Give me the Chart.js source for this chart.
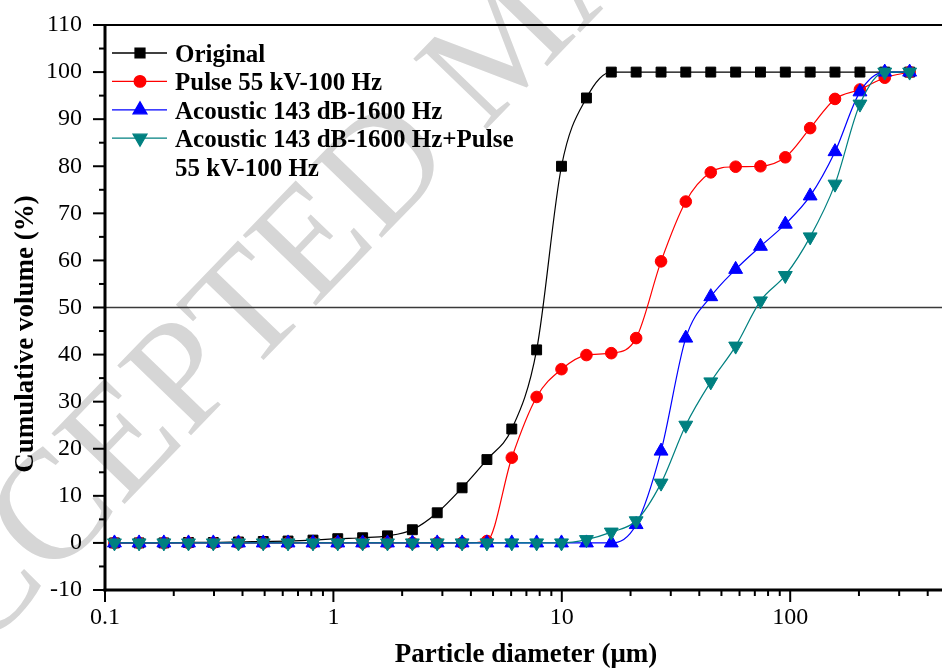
<!DOCTYPE html>
<html>
<head>
<meta charset="utf-8">
<script src="https://cdn.jsdelivr.net/npm/chart.js@4.4.0/dist/chart.umd.min.js"></script>
<style>
  html, body { margin: 0; padding: 0; background: #fff; overflow: hidden; }
  /* plot runs off the right edge of the figure, like the cropped original */
  #psd-chart { display: block; }
</style>
</head>
<body>
<canvas id="psd-chart" width="951" height="668"></canvas>
<script>
/* ── Data ── */
const diameters = [0.11, 0.141, 0.181, 0.232, 0.298, 0.384, 0.493, 0.633, 0.814, 1.045,
                   1.343, 1.725, 2.217, 2.848, 3.66, 4.70, 6.04, 7.76, 9.97, 12.82,
                   16.47, 21.16, 27.2, 34.9, 44.9, 57.7, 74.1, 95.2, 122.3, 157.1,
                   202, 259.4, 333.4];

const original = [0, 0, 0, 0.1, 0.1, 0.2, 0.3, 0.4, 0.6, 0.9,
                  1.1, 1.5, 2.8, 6.4, 11.7, 17.7, 24.2, 41.0, 80.0, 94.5,
                  100, 100, 100, 100, 100, 100, 100, 100, 100, 100,
                  100, 100, 100];
const pulse    = [0, 0, 0, 0, 0, 0, 0, 0, 0, 0,
                  0, 0, 0, 0, 0, 0.4, 18.1, 31.0, 36.9, 39.9,
                  40.3, 43.5, 59.8, 72.5, 78.7, 79.9, 80.0, 81.9, 88.1, 94.3,
                  96.3, 98.8, 100];
const acoustic = [0, 0, 0, 0, 0, 0, 0, 0, 0, 0,
                  0, 0, 0, 0, 0, 0, 0, 0, 0, 0,
                  0, 3.9, 19.5, 43.5, 52.3, 58.1, 63.0, 67.7, 73.7, 83.1,
                  95.8, 100, 100];
const combined = [0, 0, 0, 0, 0, 0, 0, 0, 0, 0,
                  0, 0, 0, 0, 0, 0, 0, 0, 0, 0.7,
                  2.3, 4.7, 12.7, 25.0, 34.2, 41.8, 51.4, 56.8, 65.0, 76.2,
                  93.2, 100, 100];

const seriesNames  = ['Original', 'Pulse 55 kV-100 Hz', 'Acoustic 143 dB-1600 Hz',
                      'Acoustic 143 dB-1600 Hz+Pulse 55 kV-100 Hz'];
const legendLines  = [['Original'], ['Pulse 55 kV-100 Hz'], ['Acoustic 143 dB-1600 Hz'],
                      ['Acoustic 143 dB-1600 Hz+Pulse', '55 kV-100 Hz']];
const xTickLabels  = ['0.1', '1', '10', '100'];
const xRange       = [0.1, 462];
const yRange       = [-10, 110];
const refLevel     = 50;
const xTitle       = 'Particle diameter (\u03bcm)';
const yTitle       = 'Cumulative volume (%)';
const watermark    = 'ACCEPTED MANUSCRIPT';

const SERIF = '"Liberation Serif", "Times New Roman", serif';

const toPoints = ys => diameters.map((d, i) => ({ x: d, y: ys[i] }));

/* ── Plugins ── */
const watermarkPlugin = {
  id: 'watermark',
  beforeDraw(chart) {
    const ctx = chart.ctx;
    ctx.save();
    ctx.fillStyle = '#fff';
    ctx.fillRect(0, 0, chart.width, chart.height);
    ctx.font = `155px ${SERIF}`;
    ctx.fillStyle = '#d6d6d6';
    ctx.textBaseline = 'middle';
    ctx.textAlign = 'left';
    const off = ctx.measureText('ACC').width + ctx.measureText('E').width / 2;
    ctx.translate(125, 445);
    ctx.rotate(-46 * Math.PI / 180);
    ctx.fillText(watermark, -off, 0);
    ctx.restore();
  }
};

const axesPlugin = {
  id: 'axes',
  afterDraw(chart) {
    const { ctx, chartArea: a, scales: { x, y } } = chart;
    ctx.save();
    ctx.strokeStyle = '#000';
    const seg = (x1, y1, x2, y2) => { ctx.beginPath(); ctx.moveTo(x1, y1); ctx.lineTo(x2, y2); ctx.stroke(); };

    // major / minor tick marks
    ctx.lineWidth = 2;
    for (let v = yRange[0]; v <= yRange[1]; v += 5) {
      const py = y.getPixelForValue(v);
      seg(a.left - (v % 10 === 0 ? 12 : 6), py, a.left, py);
    }
    for (let dec = 0.1; dec < xRange[1]; dec *= 10) {
      for (let m = 1; m <= 9; m++) {
        const v = m * dec;
        if (v > xRange[1]) break;
        const px = x.getPixelForValue(v);
        seg(px, a.bottom, px, a.bottom + (m === 1 ? 12 : 6));
      }
    }

    // axis lines
    ctx.lineWidth = 3;
    seg(a.left, a.top - 1, a.left, a.bottom + 1.5);
    seg(a.left - 1.5, a.bottom, a.right, a.bottom);
    ctx.lineWidth = 2;
    seg(a.left, a.top, a.right, a.top);

    // axis titles
    ctx.fillStyle = '#000';
    ctx.font = `bold 27px ${SERIF}`;
    ctx.textAlign = 'center';
    ctx.textBaseline = 'alphabetic';
    ctx.fillText(xTitle, 526, 662);
    ctx.translate(33, 334);
    ctx.rotate(-Math.PI / 2);
    ctx.fillText(yTitle, 0, 0);
    ctx.restore();
  }
};

const legendPlugin = {
  id: 'customLegend',
  afterDraw(chart) {
    const ctx = chart.ctx;
    const rowH = 28.4;
    let base = 62;
    ctx.save();
    ctx.font = `bold 25px ${SERIF}`;
    ctx.textAlign = 'left';
    ctx.textBaseline = 'alphabetic';
    legendLines.forEach((lines, i) => {
      const ds = chart.data.datasets[i];
      const my = base - 9;
      ctx.strokeStyle = ds.borderColor;
      ctx.lineWidth = 1.3;
      ctx.beginPath(); ctx.moveTo(112, my); ctx.lineTo(167, my); ctx.stroke();
      ctx.fillStyle = ds.pointBackgroundColor;
      ctx.strokeStyle = ds.pointBorderColor;
      Chart.helpers.drawPoint(ctx, {
        pointStyle: ds.pointStyle, radius: ds.pointRadius,
        rotation: ds.pointRotation || 0, borderWidth: 1
      }, 140, my);
      ctx.fillStyle = '#000';
      lines.forEach(t => { ctx.fillText(t, 175, base); base += rowH; });
    });
    ctx.restore();
  }
};

/* ── Chart ── */
function series(label, data, color, style, radius, rotation, order) {
  return {
    label, data: toPoints(data),
    borderColor: color, backgroundColor: color,
    pointBackgroundColor: color, pointBorderColor: color,
    pointStyle: style, pointRadius: radius, pointRotation: rotation,
    pointBorderWidth: 1, borderWidth: 1.2,
    cubicInterpolationMode: 'monotone', order
  };
}

const datasets = [
  series(seriesNames[0], original, '#000000', 'rect',     7,   0,   4),
  series(seriesNames[1], pulse,    '#ff0000', 'circle',   5.8, 0,   3),
  series(seriesNames[2], acoustic, '#0000ff', 'triangle', 8,   0,   2),
  series(seriesNames[3], combined, '#008080', 'triangle', 8,   180, 1),
  {
    label: 'ref', data: [{ x: xRange[0], y: refLevel }, { x: xRange[1], y: refLevel }],
    borderColor: '#3a3a3a', borderWidth: 1.3, pointRadius: 0, order: 10
  }
];

const hiddenGrid = {
  display: true, drawOnChartArea: false, drawTicks: true,
  tickColor: 'rgba(0,0,0,0)', color: 'rgba(0,0,0,0)'
};

new Chart(document.getElementById('psd-chart'), {
  type: 'line',
  data: { datasets },
  options: {
    responsive: false, animation: false,
    layout: { padding: { top: 25, left: 0, right: 0, bottom: 0 } },
    plugins: { legend: { display: false }, tooltip: { enabled: false } },
    scales: {
      x: {
        type: 'logarithmic', min: xRange[0], max: xRange[1],
        grid: { ...hiddenGrid, tickLength: 13 }, border: { display: false },
        afterFit: s => { s.height = 78; s.paddingLeft = 0; s.paddingRight = 0; },
        ticks: {
          autoSkip: false, maxRotation: 0, padding: 0, color: '#000',
          font: { family: SERIF, size: 24 },
          callback: v => {
            const lbl = xTickLabels.find(t => Math.abs(parseFloat(t) - v) < 1e-9 * Math.max(1, v));
            return lbl || '';
          }
        }
      },
      y: {
        min: yRange[0], max: yRange[1],
        grid: { ...hiddenGrid, tickLength: 23 }, border: { display: false },
        afterFit: s => { s.width = 105; s.paddingTop = 0; s.paddingBottom = 0; },
        ticks: { stepSize: 10, padding: 0, color: '#000', font: { family: SERIF, size: 24 } }
      }
    }
  },
  plugins: [watermarkPlugin, axesPlugin, legendPlugin]
});
</script>
</body>
</html>
